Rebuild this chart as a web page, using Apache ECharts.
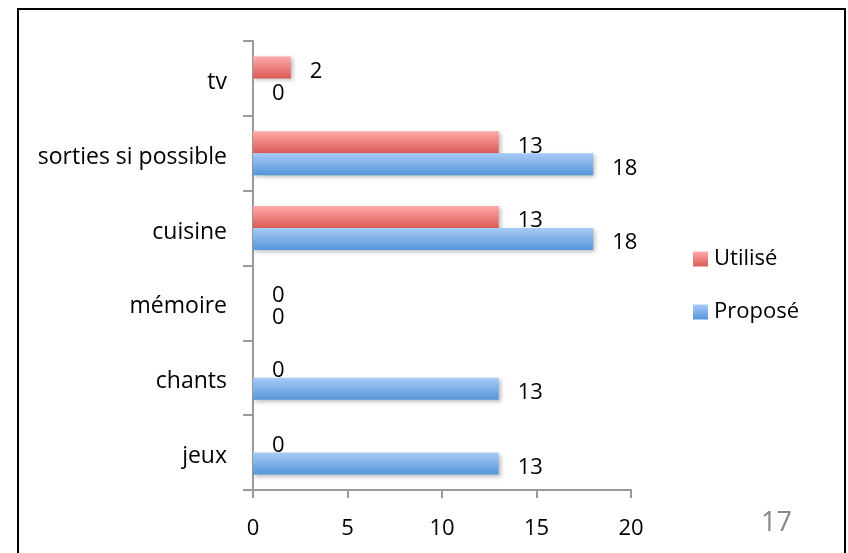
<!DOCTYPE html>
<html>
<head>
<meta charset="utf-8">
<script src="https://cdn.jsdelivr.net/npm/echarts@6/dist/echarts.min.js"></script>
<style>
html,body{margin:0;padding:0;background:#fff;}
#chart{width:848px;height:553px;}
</style>
</head>
<body>
<div id="chart"></div>
<script>
const categories = ['jeux', 'chants', 'mémoire', 'cuisine', 'sorties si possible', 'tv'];
const utilise = [0, 0, 0, 13, 13, 2];
const propose = [13, 13, 0, 18, 18, 0];
const xTicks = { min: 0, max: 20, interval: 5 };
const slideNumber = '17';

const FONT = 'Open Sans';
const chart = echarts.init(document.getElementById('chart'));

const redGrad = new echarts.graphic.LinearGradient(0, 0, 0, 1, [
  { offset: 0, color: '#ffaaaa' },
  { offset: 1, color: '#dc5a55' }
]);
const blueGrad = new echarts.graphic.LinearGradient(0, 0, 0, 1, [
  { offset: 0, color: '#a8cbf7' },
  { offset: 1, color: '#5596da' }
]);

const labelCfg = {
  show: true,
  position: 'right',
  distance: 19,
  offset: [0, 4],
  fontFamily: FONT,
  fontSize: 22,
  color: '#000'
};

chart.setOption({
  animation: false,
  textStyle: { fontFamily: FONT },
  grid: { left: 253, right: 217, top: 41, bottom: 63, containLabel: false },
  xAxis: {
    type: 'value',
    min: xTicks.min, max: xTicks.max, interval: xTicks.interval,
    splitLine: { show: false },
    axisLine: { show: true, lineStyle: { color: '#9a9a9a', width: 2 } },
    axisTick: { show: true, length: 8, lineStyle: { color: '#9a9a9a', width: 2 } },
    axisLabel: { fontFamily: FONT, fontSize: 22, color: '#000', margin: 28 }
  },
  yAxis: {
    type: 'category',
    data: categories,
    axisLine: { show: true, lineStyle: { color: '#9a9a9a', width: 2 } },
    axisTick: { show: true, length: 10, lineStyle: { color: '#9a9a9a', width: 2 } },
    axisLabel: {
      fontFamily: FONT, fontSize: 23, color: '#000', margin: 26,
      formatter: v => '{c|' + v + '}',
      rich: { c: { fontFamily: FONT, fontSize: 23, color: '#000', padding: [8, 0, 0, 0] } }
    }
  },
  legend: {
    orient: 'vertical',
    left: 693,
    top: 248,
    padding: 0,
    itemWidth: 15,
    itemHeight: 15,
    itemGap: 31,
    icon: 'rect',
    textStyle: { fontFamily: FONT, fontSize: 22, color: '#000', padding: [0, 0, 0, 1] },
    data: ['Utilisé', 'Proposé']
  },
  graphic: [
    {
      type: 'rect',
      shape: { x: 18, y: 9, width: 827, height: 600 },
      style: { fill: 'none', stroke: '#000', lineWidth: 2 },
      silent: true
    },
    {
      type: 'text',
      left: 761,
      top: 510,
      style: { text: slideNumber, fontFamily: FONT, fontSize: 27, fill: '#888' },
      silent: true
    }
  ],
  series: [
    {
      name: 'Utilisé',
      type: 'bar',
      data: utilise,
      barWidth: 22,
      barGap: '0%',
      itemStyle: { color: redGrad, shadowColor: 'rgba(0,0,0,0.25)', shadowBlur: 4, shadowOffsetX: 2, shadowOffsetY: 2 },
      label: labelCfg
    },
    {
      name: 'Proposé',
      type: 'bar',
      data: propose,
      barWidth: 22,
      barGap: '0%',
      itemStyle: { color: blueGrad, shadowColor: 'rgba(0,0,0,0.25)', shadowBlur: 4, shadowOffsetX: 2, shadowOffsetY: 2 },
      label: labelCfg
    }
  ]
});
</script>
</body>
</html>
